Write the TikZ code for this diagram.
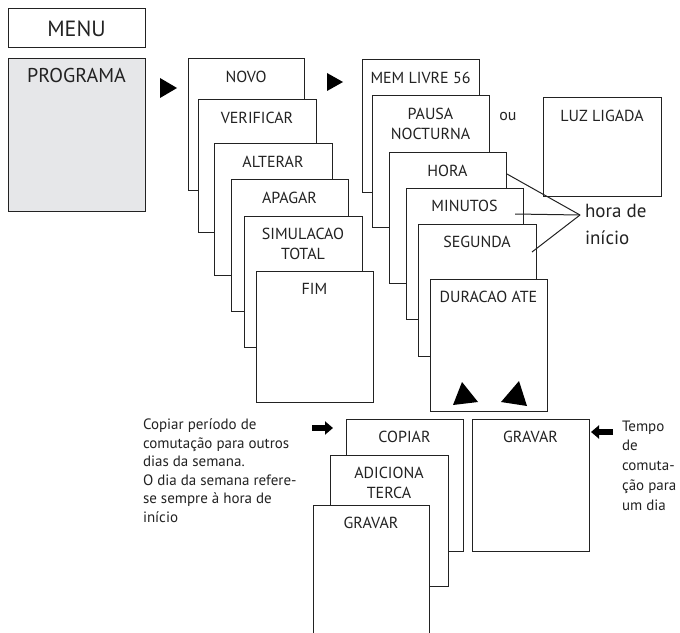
\documentclass[tikz,border=0pt]{standalone}
\usepackage{fontspec}
\setmainfont{PT Sans}
\usetikzlibrary{arrows.meta}
\definecolor{lc}{HTML}{222222}
\definecolor{pg}{HTML}{E6E7E9}
\tikzset{
  box/.style={draw=lc, fill=white, line width=1bp, inner sep=0pt, outer sep=0pt, anchor=north west},
  lbl/.style={inner sep=0pt, outer sep=0pt, anchor=north, align=center, text=lc,
    font=\fontsize{16bp}{20.5bp}\selectfont},
  note/.style={inner sep=0pt, outer sep=0pt, anchor=north west, align=left, text=lc,
    font=\fontsize{15bp}{18.5bp}\selectfont},
  link/.style={draw=lc, line width=1bp},
  blockarrow/.style={draw=none, fill=black},
}
\newcommand\mbx[6]{%
  \node[box, minimum width={(#4-#2)*1bp}, minimum height={(#5-#3)*1bp}] (#1) at (#2,#3) {};
  \node[lbl] (#1-l) at ({(#2+#4)/2},{#3+12}) {#6};
}
\begin{document}
\begin{tikzpicture}[x=1bp,y=-1bp]
\clip (0,0) rectangle (680,633);
% MENU / PROGRAMA
\node[box, minimum width=137bp, minimum height=39bp] (menu) at (8,9) {};
\node[lbl, font=\fontsize{22bp}{26bp}\selectfont] (menu-l) at (76.5,21) {MENU};
\node[box, fill=pg, minimum width=137bp, minimum height=152bp] (prog) at (8,59) {};
\node[lbl, font=\fontsize{20bp}{24bp}\selectfont] (prog-l) at (76.5,68.5) {PROGRAMA};
\fill (160,78) -- (177,88) -- (160,98) -- cycle;
% column 1
\mbx{novo}{188}{59}{304}{190}{NOVO}
\mbx{verif}{198}{100}{316}{232}{VERIFICAR}
\mbx{alter}{214}{144}{332}{275}{ALTERAR}
\mbx{apagar}{231}{180}{348}{311}{APAGAR}
\mbx{simul}{244}{216}{362}{347}{SIMULACAO\\TOTAL}
\mbx{fim}{256}{271}{373}{402}{FIM}
\fill (327,73) -- (343,82) -- (327,91) -- cycle;
% column 2
\mbx{mem}{362}{60}{479}{192}{MEM LIVRE 56}
\mbx{pausa}{372}{96}{489}{227}{PAUSA\\NOCTURNA}
\mbx{hora}{389}{153}{506}{283}{HORA}
\mbx{minut}{406}{188}{523}{319}{MINUTOS}
\mbx{seg}{418}{224}{536}{356}{SEGUNDA}
\mbx{dur}{430}{279}{547}{411}{DURACAO ATE}
\fill (453,405) -- (462,382) -- (478,402) -- cycle;
\fill (501,402) -- (519,381) -- (527,406) -- cycle;
\node[inner sep=0pt, anchor=base, text=lc, font=\fontsize{16bp}{20bp}\selectfont] (ou) at (508,121) {ou};
\mbx{luz}{543}{98}{661}{196}{LUZ LIGADA}
% hora de inicio
\coordinate (tip) at (580,215);
\coordinate (h1) at (507,174);
\coordinate (h2) at (515,214);
\coordinate (h3) at (532,252);
\draw[link] (h1) -- (tip);
\draw[link] (h2) -- (tip);
\draw[link] (h3) -- (tip);
\node[note, font=\fontsize{19bp}{27bp}\selectfont] (hdi) at (585,204) {hora de\\início};
% bottom
\mbx{copiar}{346}{419}{463}{551}{COPIAR}
\mbx{adic}{330}{455}{448}{586}{ADICIONA\\TERCA}
\mbx{grav1}{313}{505}{429}{645}{GRAVAR}
\mbx{grav2}{472}{419}{589}{551}{GRAVAR}
\node[note] (copy-note) at (143,419) {Copiar período de\\comutação para outros\\dias da semana.\\O dia da semana refere-\\se sempre à hora de\\início};
\node[note, font=\fontsize{15bp}{19.75bp}\selectfont] (tempo-note) at (622,420.5) {Tempo\\de\\comuta-\\ção para\\um dia};
\coordinate (a1s) at (312,428);
\coordinate (a1e) at (333,428);
\coordinate (a2s) at (613,432);
\coordinate (a2e) at (591,432);
\draw[line width=6bp, -{Triangle[length=8bp,width=13bp]}] (a1s) -- (a1e);
\draw[line width=6bp, -{Triangle[length=8bp,width=13bp]}] (a2s) -- (a2e);
\end{tikzpicture}
\end{document}
